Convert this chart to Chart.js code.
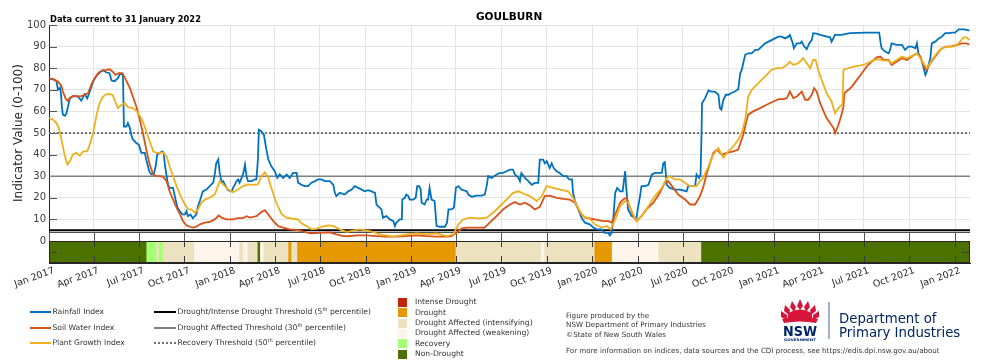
<!DOCTYPE html>
<html><head><meta charset="utf-8">
<script src="https://cdn.jsdelivr.net/npm/chart.js@4.4.1/dist/chart.umd.min.js"></script>
<style>
body{margin:0;background:#fff;}
#wrap{position:relative;width:1000px;height:361px;overflow:hidden;font-family:"DejaVu Sans",sans-serif;color:#262626;}
canvas{position:absolute;left:0;top:0;}
.t{position:absolute;white-space:nowrap;line-height:1;}
.lg{font-size:7.6px;color:#333;}
.ln{position:absolute;height:0;}
.bx{position:absolute;width:9px;height:9px;}
sup{font-size:5px;vertical-align:3px;line-height:0;}
</style></head>
<body><div id="wrap">
<canvas id="c" width="1000" height="361"></canvas>
<div class="t" style="left:50px;top:15px;font-size:8.3px;font-weight:bold;color:#000">Data current to 31 January 2022</div>
<div class="t" style="left:476px;top:11px;font-size:10.5px;font-weight:bold;color:#000">GOULBURN</div>
<div id="legend"></div>
<div class="t" style="left:566px;top:311px;font-size:7.2px;color:#333;line-height:9.4px">Figure produced by the<br>NSW Department of Primary Industries<br>©State of New South Wales</div>
<div class="t" style="left:566px;top:347px;font-size:7.1px;color:#333">For more information on indices, data sources and the CDI process, see https://edis.dpi.nsw.gov.au/about</div>
<svg style="position:absolute;left:776px;top:296px" width="48" height="48" viewBox="0 0 48 48">
<g fill="#d7153a">
<path d="M24 3 L27 10 L24 14 L21 10 Z"/>
<path d="M16 5 L20 11 L18 16 L14 11 Z"/>
<path d="M32 5 L34 11 L30 16 L28 11 Z"/>
<path d="M9 9 L14 14 L13 19 L8 15 Z"/>
<path d="M39 9 L40 15 L35 19 L34 14 Z"/>
<path d="M5 15 L11 19 L11 24 L5 21 Z"/>
<path d="M43 15 L43 21 L37 24 L37 19 Z"/>
<path d="M12 17 Q24 10 36 17 L36 26 Q24 22 12 26 Z"/>
<path d="M6 23 Q24 18 42 23 L40 27 Q24 24 8 27 Z"/>
</g>
<text x="24" y="40" text-anchor="middle" font-family="DejaVu Sans" font-weight="bold" font-size="14" fill="#002664" textLength="34" lengthAdjust="spacingAndGlyphs">NSW</text>
<text x="24" y="44.5" text-anchor="middle" font-family="DejaVu Sans" font-weight="bold" font-size="3.4" fill="#002664" textLength="32" lengthAdjust="spacingAndGlyphs">GOVERNMENT</text>
</svg>
<div style="position:absolute;left:828px;top:302px;width:1.5px;height:37px;background:#9fb0c8"></div>
<div class="t" style="left:839px;top:312px;font-size:13.3px;color:#002664">Department of</div>
<div class="t" style="left:839px;top:326px;font-size:13.3px;color:#002664">Primary Industries</div>
</div>
<script>
// ---------------- data ----------------
const START = '2017-01-01';
const END = '2022-01-31';
const chartTitle = 'GOULBURN';
const yTickValues = [0,10,20,30,40,50,60,70,80,90,100];
const xTickDates = ['2017-01-01','2017-04-01','2017-07-01','2017-10-01','2018-01-01','2018-04-01','2018-07-01','2018-10-01','2019-01-01','2019-04-01','2019-07-01','2019-10-01','2020-01-01','2020-04-01','2020-07-01','2020-10-01','2021-01-01','2021-04-01','2021-07-01','2021-10-01','2022-01-01'];
const xTickLabels = ['Jan 2017','Apr 2017','Jul 2017','Oct 2017','Jan 2018','Apr 2018','Jul 2018','Oct 2018','Jan 2019','Apr 2019','Jul 2019','Oct 2019','Jan 2020','Apr 2020','Jul 2020','Oct 2020','Jan 2021','Apr 2021','Jul 2021','Oct 2021','Jan 2022'];

// days since 1 Jan 2017
const rainDay = [0,8,15,18,22,24,26,28,32,35,38,42,48,58,65,72,77,82,89,96,102,109,116,122,126,132,139,143,149,151,156,159,163,166,169,176,181,186,193,196,202,206,211,215,218,223,229,231,234,237,240,243,250,255,259,264,269,274,277,280,285,290,297,300,304,310,317,324,331,334,337,341,344,348,351,356,361,368,371,378,381,384,391,395,398,401,408,415,418,421,423,428,433,437,442,448,455,460,465,472,479,485,492,499,502,509,516,522,529,536,542,549,556,566,573,576,579,586,596,603,610,616,623,630,636,643,650,657,660,663,670,673,680,687,694,697,700,707,711,712,717,720,724,727,734,739,742,746,749,751,757,761,764,767,771,777,781,788,798,802,805,811,816,820,825,831,842,845,852,862,872,878,882,885,892,899,902,909,915,922,929,935,939,946,949,952,959,966,973,979,986,989,996,999,1003,1009,1013,1017,1023,1029,1036,1043,1048,1054,1056,1060,1067,1073,1080,1090,1097,1104,1114,1120,1127,1130,1134,1137,1141,1145,1151,1156,1161,1163,1167,1174,1181,1184,1187,1191,1194,1201,1208,1215,1221,1235,1238,1241,1245,1251,1261,1272,1285,1288,1302,1305,1310,1313,1315,1316,1322,1329,1335,1342,1349,1352,1355,1359,1364,1369,1375,1382,1389,1393,1396,1399,1403,1409,1416,1423,1429,1436,1443,1450,1456,1463,1470,1477,1483,1490,1493,1499,1501,1507,1514,1517,1522,1527,1532,1537,1540,1547,1554,1564,1574,1577,1584,1597,1614,1648,1673,1676,1678,1685,1692,1695,1698,1708,1719,1725,1732,1739,1746,1749,1752,1757,1762,1766,1769,1776,1779,1786,1793,1799,1806,1813,1820,1826,1833,1843,1850,1855];
const rainVal = [75,75,74,70,71,68.5,62,58.5,58,59,62,66,67,67,65,68,66,69,74,76.5,78,79,78,77.7,74.3,74,75.4,77.4,77,53,53,54.6,52.3,49,47,45.4,44.6,40.8,40.8,37.7,32.3,30.8,30.8,34.6,40,40.8,41.5,40.8,34.6,30,26,24.6,24.6,19.2,15.4,13.8,12.3,12.3,13.8,11.5,12.3,10.5,12.3,16,18.5,23,23.8,25.4,27,30.8,36,37.7,31.5,27,27.7,25.4,23.5,23,24.6,27.7,28.5,27,30.8,35.4,30,27.7,27.7,28.5,28.5,37.7,51.5,50.8,49.2,43.8,37.7,34.6,32.3,29.2,30.8,29.2,30.8,29.2,31.5,31.5,27,26,25.4,25.4,27,27.7,28.5,28.5,27.7,27.7,26,22.3,20.8,22.3,21.5,23,23.8,25.4,24.6,23.8,23,23.5,23,22.3,16.9,16.2,14.6,10.8,11.5,10,9.2,6.9,8.5,10,10,19.2,20,21.5,20.8,19.2,19.2,20,25.4,25.4,23.8,17.7,16.9,19.2,19.2,24.6,19.2,18.5,6.9,6.6,6.6,8.5,14.6,14.6,15.4,24.6,25.4,23.8,23,21.5,20.5,21,21,21.5,25.4,30,29.2,30.3,30.8,31.5,31.5,32.3,33,33,30.8,29.2,27.7,31.5,29.2,27.7,26,26.9,26.9,37.7,37.7,36,37,33.8,36,33.8,32.3,31.5,30,30,28.5,28.5,22.3,18.5,14.6,10.8,8.5,7.7,6.2,5.4,5.4,3.8,3.8,2.6,3.8,10,22.3,24.6,23,23,32.3,25.4,14.6,11.5,10.8,10.8,15.4,20.8,25.4,25.4,26,30.8,31.5,31.5,36,36.5,26,24.6,23.8,23.8,23,25.4,25.4,30.8,29.2,30.8,50,63.8,66,69.7,69.2,69.2,67.7,61.5,60.8,65.4,67.7,67.7,68.5,69.2,70.3,77.7,79.2,82.3,86.2,86.9,86.9,88.5,88.5,90,91.5,92.3,93,93.8,94.6,94.6,93.8,94.6,95.4,91.5,89.2,91.5,91.5,92.3,90,88.8,91.5,93,96.2,96,95.4,94.9,94.3,92.3,95.4,95.4,96.2,96.5,96.5,91.5,89.2,87.7,86.9,88.5,91.5,90.8,90.8,88.5,90,90,89.2,91.5,86.9,84.6,80.8,76.9,78.5,84.6,91.5,92.3,93.8,94.6,96.2,96.2,96.5,96.5,98,98,97.7,97.4];

const soilDay = [0,11,18,25,28,33,37,42,48,62,72,79,85,92,99,106,116,122,128,134,141,148,155,163,169,176,183,190,196,203,210,217,223,230,237,243,250,257,264,270,277,284,290,297,304,314,324,334,342,348,358,371,381,391,398,405,418,428,435,442,452,462,472,485,499,509,526,546,566,579,593,603,620,640,660,680,700,721,741,761,781,801,811,821,831,842,862,878,888,902,915,929,939,949,959,969,979,989,999,1009,1023,1036,1049,1060,1070,1080,1093,1107,1117,1127,1134,1141,1151,1157,1164,1171,1177,1184,1194,1204,1218,1231,1241,1248,1258,1268,1282,1292,1302,1312,1318,1325,1332,1339,1346,1356,1366,1379,1389,1399,1406,1409,1419,1433,1446,1460,1470,1480,1487,1493,1500,1507,1517,1524,1530,1537,1542,1547,1554,1561,1567,1574,1581,1584,1591,1598,1601,1603,1611,1618,1628,1638,1648,1658,1668,1675,1682,1692,1698,1708,1719,1729,1739,1749,1756,1762,1768,1776,1786,1796,1806,1816,1830,1840,1847,1855];
const soilVal = [75.4,74.6,73.8,71.8,69.2,66.2,64.9,66.2,67.2,66.9,67.7,68.5,72.3,75.4,77.7,78.9,79.2,79.5,78.5,76.9,77.7,77.7,74.6,70.8,66.9,62.3,56.2,49.2,42.3,35.4,30.8,30,30,29.7,27.7,23,19.2,15.4,12.3,9.2,7.2,6.6,6.2,6.6,7.7,8.5,8.8,10,11.8,10.8,10,10,10.6,10.6,11.5,10.8,11.5,13.4,14.3,12.3,9.2,6.9,6.2,5.4,5.1,4.6,3.5,3.8,4,3.1,2.3,2.2,2.6,2.6,2.3,2,2,2.3,2.6,2.3,2,2,2.3,3.8,5.7,6.2,6.2,6.2,8.5,11.5,14.6,16.9,18,16.9,17.7,16.5,14.6,15.8,20.8,21,20,19.5,19.2,17.7,13.1,10.8,10.3,9.7,9.2,9.2,8.5,12.3,17.7,19.2,20,15.4,11.5,9.2,11.5,14.6,17.7,22.3,26.9,27.7,24.6,21.5,19.2,16.9,16.9,20.8,24.6,30.8,36,40.8,42.3,40,40.8,41.5,42.3,49.2,56,58.5,60,61.5,63.1,64.6,65.7,65.7,66.2,69.2,66.2,66.9,69.2,65.4,65.4,67.7,70.8,69.2,63.8,60,56.9,54.6,52.3,50,53.8,59.2,62.3,68.5,70,71.5,74.6,77.7,80.8,83,85,85.4,83.8,83.8,81.5,83,84.6,83.8,85.4,86.9,85.4,81.5,79.2,82.3,85.4,88.5,90,90,90.8,91.5,91.5,91];

const plantDay = [0,8,15,20,25,32,37,42,48,55,62,69,77,82,89,96,102,109,116,122,128,132,139,146,153,159,169,177,186,190,196,203,210,217,223,230,237,243,250,257,267,274,280,287,294,300,307,314,324,334,344,351,361,371,381,391,401,411,421,428,435,442,448,458,469,479,492,502,509,519,529,539,549,563,573,586,600,613,626,647,667,694,721,741,761,781,801,815,825,835,848,868,882,895,909,922,935,946,956,969,983,993,1003,1016,1030,1046,1056,1066,1076,1090,1100,1114,1124,1132,1141,1151,1161,1167,1174,1184,1194,1208,1221,1235,1245,1251,1261,1272,1282,1292,1305,1312,1318,1329,1339,1349,1359,1369,1379,1389,1396,1403,1409,1416,1426,1436,1446,1456,1466,1477,1487,1493,1500,1510,1520,1527,1534,1540,1545,1550,1557,1567,1577,1584,1591,1598,1599,1601,1611,1624,1641,1655,1668,1682,1692,1698,1708,1719,1729,1739,1749,1756,1762,1769,1779,1789,1799,1809,1823,1833,1843,1849,1855];
const plantVal = [56.9,56.2,54.6,52.3,47,39.2,35.4,36.9,40,40.8,39.5,41.5,41.5,44.6,50,58.5,63.8,66.9,68,68,67.7,65.4,61.5,63.1,63.8,62,61.5,60,56.9,54.6,50.8,46.2,41.5,40.8,40.8,41,39.2,34.6,30,25.4,20,16.9,14.6,14.6,13.1,14.6,17.7,19.2,20,21.5,27.7,26.2,23.8,22.6,23.8,25.4,26.2,26,26.2,30,31.8,29.2,24.6,17.7,12.3,10.8,10.3,10,8.2,6.9,5.4,5.6,6.6,7.2,7,5.4,4.2,4.8,5.4,4.6,3.1,2,3.1,3.5,3.1,3.5,2.3,3.1,7.7,10,10.8,10.5,10.8,13.1,16.2,19.2,22.3,23,22,20.8,18.5,20.8,25.4,24.6,23.8,23,20,15.4,11.5,10.3,7.7,6.2,6.9,5.4,10,16.2,18.5,17.7,13.8,9.2,11.5,16.2,20.8,24.6,29.2,30,28.5,28.5,26.9,25.4,25.4,27.7,29.2,34.6,40,43,38.5,41.5,43.8,46.9,50,56,66.9,70,72.3,74.6,76.9,79.2,80,80,81.5,83,81.5,82.3,84.6,82.3,80,83.8,83.8,79.2,74.6,68.5,64.6,59.2,61.5,63.1,63.1,79.2,80,80.8,81.5,83,84.2,83.5,83.5,82.3,83.8,85.4,84.6,85.7,86.9,84.6,82.3,80,83.8,86.9,89.2,90,90,91.5,94.3,94.3,93];

const thresholdNames = ['Drought/Intense Drought Threshold (5th percentile)','Drought Affected Threshold (30th percentile)','Recovery Threshold (50th percentile)'];
const thresholdValues = [5, 30, 50];

const stripCategories = ['Intense Drought','Drought','Drought Affected (intensifying)','Drought Affected (weakening)','Recovery','Non-Drought'];
const stripStart = ['2017-01-01','2017-07-17','2017-08-06','2017-08-11','2017-08-19','2017-10-21','2018-01-20','2018-01-28','2018-02-06','2018-02-26','2018-03-03','2018-03-10','2018-04-29','2018-05-05','2018-05-17','2019-04-01','2019-09-20','2019-09-27','2020-01-06','2020-02-10','2020-05-14','2020-08-08'];
const stripClass = [5,4,2,4,2,3,2,3,2,5,3,2,1,2,1,2,3,2,1,3,2,5];

// ---------------- styling ----------------
const seriesNames = ['Rainfall Index','Soil Water Index','Plant Growth Index'];
const seriesColors = ['#0072bd','#d95319','#edb120'];
const thresholdColors = ['#000000','#808080','#737373'];
const stripColors = ['#c1260c','#e69800','#ede2bf','#fdf5e9','#a3ff73','#4c7100'];

const DAY = 86400000;
const t0 = Date.parse(START + 'T00:00:00Z');
const dayOf = s => Math.round((Date.parse(s + 'T00:00:00Z') - t0) / DAY);
const xMax = dayOf(END);
const xTicks = xTickDates.map(dayOf);
const zip = (xs, ys) => xs.map((x, i) => ({x, y: ys[i]}));

const stripData = stripStart.map((s, i) => ({
  y: 'strip',
  x: [dayOf(s), i + 1 < stripStart.length ? dayOf(stripStart[i + 1]) : xMax]
}));

Chart.defaults.font.family = '"DejaVu Sans", sans-serif';
Chart.defaults.color = '#262626';

const decor = {
  id: 'decor',
  beforeDatasetsDraw(chart) {
    const {ctx, chartArea: a, scales: {x, y}} = chart;
    const y0 = Math.round(y.getPixelForValue(0));
    const yp = Math.round(y.getPixelForValue(4.3));
    ctx.save();
    ctx.fillStyle = '#fff';
    ctx.fillRect(a.left + 1, yp, a.right - a.left - 1, y0 - yp);
    ctx.strokeStyle = '#4d4d4d';
    ctx.lineWidth = 1;
    ctx.beginPath(); ctx.moveTo(a.left, yp + 0.5); ctx.lineTo(a.right, yp + 0.5); ctx.stroke();
    ctx.strokeStyle = '#555';
    ctx.beginPath();
    xTicks.forEach(v => {
      const px = Math.round(x.getPixelForValue(v)) + 0.5;
      ctx.moveTo(px, y0 - 8); ctx.lineTo(px, y0);
    });
    yTickValues.forEach(v => {
      if (v === 0) return;
      const py = Math.round(y.getPixelForValue(v)) + 0.5;
      ctx.moveTo(a.left, py); ctx.lineTo(a.left + 8, py);
    });
    ctx.stroke();
    ctx.restore();
  },
  afterDatasetsDraw(chart) {
    const {ctx, chartArea: a, scales: {x, y}} = chart;
    const y0 = Math.round(y.getPixelForValue(0));
    const yb = Math.round(a.bottom);
    const ym = Math.round((y0 + yb) / 2) + 0.5;
    ctx.save();
    ctx.strokeStyle = '#3a3a3a';
    ctx.lineWidth = 1;
    ctx.beginPath();
    xTicks.forEach(v => {
      const px = Math.round(x.getPixelForValue(v)) + 0.5;
      ctx.moveTo(px, y0); ctx.lineTo(px, y0 + 6);
      ctx.moveTo(px, yb - 7); ctx.lineTo(px, yb);
    });
    ctx.moveTo(a.left, ym); ctx.lineTo(a.left + 8, ym);
    ctx.moveTo(a.right - 8, ym); ctx.lineTo(a.right, ym);
    ctx.stroke();
    ctx.strokeStyle = '#262626';
    ctx.strokeRect(Math.round(a.left) + 0.5, y0 + 0.5, Math.round(a.right - a.left) - 1, yb - y0 - 1);
    ctx.restore();
  }
};

const datasets = [];
seriesNames.forEach((n, i) => {
  const d = [rainDay, soilDay, plantDay][i], v = [rainVal, soilVal, plantVal][i];
  datasets.push({
    type: 'line', label: n, data: zip(d, v), xAxisID: 'x', yAxisID: 'y',
    borderColor: seriesColors[i], borderWidth: 1.8, pointRadius: 0, tension: 0, order: 3 - i
  });
});
thresholdNames.forEach((n, i) => {
  datasets.push({
    type: 'line', label: n, data: [{x: 0, y: thresholdValues[i]}, {x: xMax, y: thresholdValues[i]}],
    xAxisID: 'x', yAxisID: 'y', borderColor: thresholdColors[i], borderWidth: i === 0 ? 2 : (i === 2 ? 2.2 : 1.6),
    borderDash: i === 2 ? [2, 2] : [], pointRadius: 0, order: 10
  });
});
datasets.push({
  type: 'bar', label: 'CDI phase', indexAxis: 'y', data: stripData, xAxisID: 'x', yAxisID: 'ys',
  backgroundColor: stripClass.map(c => stripColors[c]), borderWidth: 0,
  barPercentage: 1, categoryPercentage: 1, order: 20
});

new Chart(document.getElementById('c'), {
  type: 'line',
  data: {datasets},
  plugins: [decor],
  options: {
    responsive: false, animation: false, devicePixelRatio: 1,
    layout: {padding: {left: 0, top: 25, right: 30, bottom: 0}},
    plugins: {legend: {display: false}, tooltip: {enabled: false}, title: {display: false}},
    scales: {
      x: {
        type: 'linear', min: 0, max: xMax,
        afterBuildTicks: s => { s.ticks = xTicks.map(v => ({value: v})); },
        afterFit: s => { s.height = 98; },
        ticks: {autoSkip: false, minRotation: 20, maxRotation: 20, padding: 2, labelOffset: 5,
          font: {size: 9.5}, color: '#262626',
          callback: v => { const k = xTicks.indexOf(v); return k >= 0 ? xTickLabels[k] : ''; }},
        grid: {color: '#e3e3e3', drawTicks: false},
        border: {display: true, color: '#262626'}
      },
      ys: {
        type: 'category', axis: 'y', labels: ['strip'], offset: true, position: 'left',
        stack: 'v', stackWeight: 22,
        afterFit: s => { s.width = 49; },
        ticks: {display: false}, grid: {display: false},
        border: {display: true, color: '#262626'}
      },
      y: {
        type: 'linear', min: 0, max: 100, position: 'left', stack: 'v', stackWeight: 216,
        afterBuildTicks: s => { s.ticks = yTickValues.map(v => ({value: v})); },
        afterFit: s => { s.width = 49; },
        ticks: {padding: 3, font: {size: 10}, color: '#404040'},
        grid: {drawTicks: false, color: c => (c.tick && c.tick.value === 0) ? 'rgba(0,0,0,0)' : '#e3e3e3'},
        border: {display: true, color: '#262626'},
        title: {display: true, text: 'Indicator Value (0-100)', font: {size: 12}, color: '#262626', padding: {top: 12, bottom: 0}}
      }
    }
  }
});

// ---------------- HTML legend ----------------
const leg = document.getElementById('legend');
const rowsY = [312, 327.5, 342.5];
let html = '';
seriesNames.forEach((n, i) => {
  html += `<div class="ln" style="left:30px;width:21px;top:${rowsY[i]-1}px;border-top:2px solid ${seriesColors[i]}"></div>`;
  html += `<div class="t lg" style="left:52.5px;top:${rowsY[i]-4}px">${n}</div>`;
});
thresholdNames.forEach((n, i) => {
  const txt = n.replace(/(\d+)th/, '$1<sup>th</sup>');
  const st = i === 2 ? `border-top:2px dotted ${thresholdColors[i]}` : `border-top:2px solid ${thresholdColors[i]}`;
  html += `<div class="ln" style="left:154px;width:22px;top:${rowsY[i]-1}px;${st}"></div>`;
  html += `<div class="t lg" style="left:177.5px;top:${rowsY[i]-4}px">${txt}</div>`;
});
const boxY = [302.3, 312.7, 323, 333.3, 343.7, 354];
stripCategories.forEach((n, i) => {
  html += `<div class="bx" style="left:398px;top:${boxY[i]-4.5}px;background:${stripColors[i]}"></div>`;
  html += `<div class="t lg" style="left:415px;top:${boxY[i]-4}px">${n}</div>`;
});
leg.innerHTML = html;
</script>
</body></html>
